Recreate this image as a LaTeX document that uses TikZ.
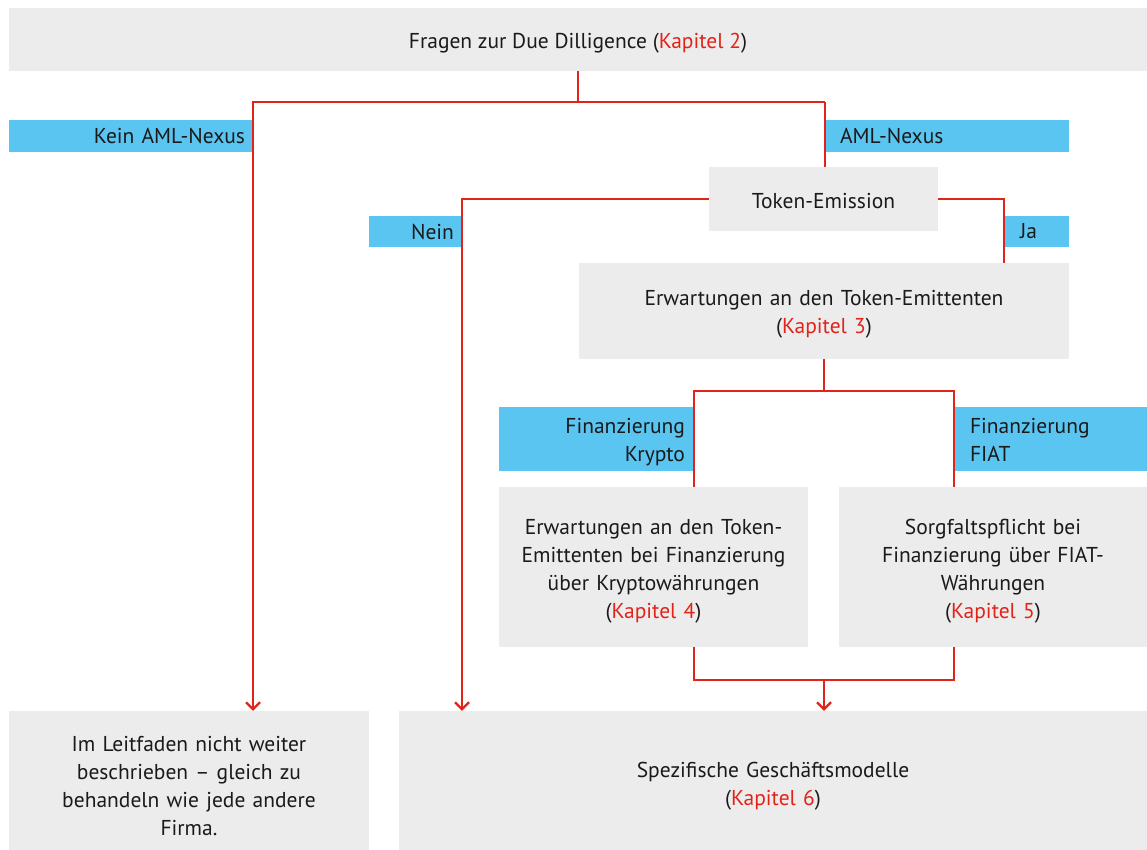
\documentclass[tikz,border=0pt]{standalone}
\usepackage{fontspec}
\setmainfont{PT Sans}
\usetikzlibrary{arrows.meta}
\definecolor{boxgrey}{HTML}{ECECEC}
\definecolor{lblue}{HTML}{5BC5F2}
\definecolor{ured}{HTML}{E2231A}
\definecolor{txt}{HTML}{1A1A1A}
\newcommand{\kap}[1]{(\textcolor{ured}{Kapitel #1})}
\begin{document}
\begin{tikzpicture}[x=1pt,y=-1pt,
  every node/.style={font=\fontsize{21.5}{28}\selectfont, text=txt},
  lowered/.style={execute at begin node={\rule{0pt}{#1}}},
  greybox/.style={fill=boxgrey, inner sep=0pt, align=center},
  bluebox/.style={fill=lblue, inner sep=0pt},
  conn/.style={draw=ured, line width=2.6pt},
  arr/.style={conn, -{Straight Barb[length=7pt,width=14pt,line width=2.2pt]}}]
\useasboundingbox (0,0) rectangle (1147,850);
% grey boxes
\node[greybox, lowered=23pt, minimum width=1138, minimum height=63] (top) at (578,39.5) {Fragen zur Due Dilligence \kap{2}};
\node[greybox, lowered=19pt, minimum width=229, minimum height=64] (tok) at (823.5,199) {Token-Emission};
\node[greybox, lowered=22pt, text width=470, minimum width=490, minimum height=96] (erw) at (824,311) {Erwartungen an den Token-Emittenten\\\kap{3}};
\node[greybox, lowered=24pt, text width=289, minimum width=309, minimum height=160] (kr) at (653.5,567) {Erwartungen an den Token-\\Emittenten bei Finanzierung\\über Kryptowährungen\\\kap{4}};
\node[greybox, lowered=24pt, text width=288, minimum width=308, minimum height=160] (fi) at (993,567) {Sorgfaltspflicht bei\\Finanzierung über FIAT-\\Währungen\\\kap{5}};
\node[greybox, lowered=26pt, text width=340, minimum width=360, minimum height=139] (bl) at (189,780.5) {Im Leitfaden nicht weiter\\beschrieben – gleich zu\\behandeln wie jede andere\\Firma.};
\node[greybox, lowered=26pt, text width=728, minimum width=748, minimum height=139] (br) at (773,780.5) {Spezifische Geschäftsmodelle\\\kap{6}};
% blue labels
\node[bluebox, minimum width=243, minimum height=32, text width=229, align=right] (kein) at (130.5,136) {Kein AML-Nexus};
\node[bluebox, minimum width=244, minimum height=32, text width=214, align=left] (aml) at (947,136) {AML-Nexus};
\node[bluebox, minimum width=92, minimum height=31, text width=78, align=right] (nein) at (415,231.5) {Nein};
\node[bluebox, minimum width=64, minimum height=31, text width=34, align=left] (ja) at (1037,231.5) {Ja};
\node[bluebox, lowered=22pt, minimum width=194, minimum height=64, text width=178, align=right] (fk) at (596,439) {Finanzierung\\Krypto};
\node[bluebox, lowered=22pt, minimum width=192, minimum height=64, text width=162, align=left] (ff) at (1051,439) {Finanzierung\\FIAT\vphantom{y}};
% junction coordinates
\coordinate (jL) at (253,102);
\coordinate (jR) at (825,102);
\coordinate (nx) at (462,199);
\coordinate (jx) at (1004,199);
\coordinate (kx) at (694,391);
\coordinate (fx) at (954,391);
\coordinate (bk) at (694,680);
\coordinate (bf) at (954,680);
\coordinate (bm) at (824,680);
% connectors
\draw[conn] (top.south) -- (top.south |- jL);
\draw[arr] (jR) -- (jL) -- (jL |- bl.north);
\draw[conn] (jR) -- (jR |- tok.north);
\draw[arr] (tok.west) -- (nx) -- (nx |- br.north);
\draw[conn] (tok.east) -- (jx) -- (jx |- erw.north);
\draw[conn] (erw.south) -- (erw.south |- kx);
\draw[conn] (kx |- kr.north) -- (kx) -- (fx) -- (fx |- fi.north);
\draw[conn] (bk |- kr.south) -- (bk) -- (bf) -- (bf |- fi.south);
\draw[arr] (bm) -- (bm |- br.north);
\end{tikzpicture}
\end{document}
